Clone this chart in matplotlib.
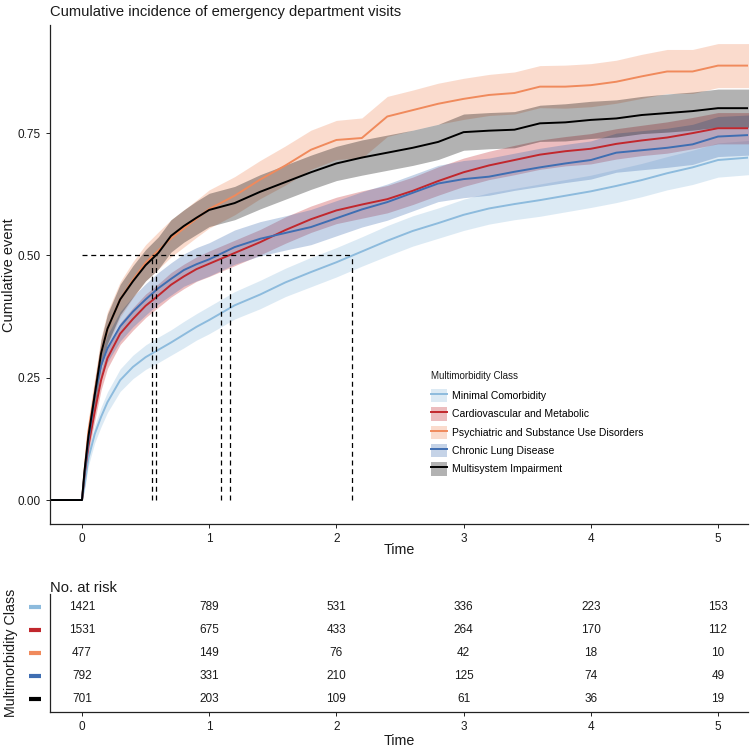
import matplotlib
matplotlib.use("Agg")
import matplotlib.pyplot as plt
from matplotlib.patches import Patch
from matplotlib.lines import Line2D
from matplotlib.transforms import blended_transform_factory

plt.rcParams["font.family"] = ["Liberation Sans", "DejaVu Sans"]

# ---- data ----
classes = ["Minimal Comorbidity", "Cardiovascular and Metabolic",
           "Psychiatric and Substance Use Disorders", "Chronic Lung Disease",
           "Multisystem Impairment"]
colors = ["#8DBBDD", "#C1272D", "#F08A5C", "#3F6EB2", "#000000"]

times = [-0.25, 0, 0.02, 0.05, 0.1, 0.15, 0.2, 0.3, 0.4, 0.5, 0.6, 0.7, 0.8, 0.9, 1.0,
         1.2, 1.4, 1.6, 1.8, 2.0, 2.2, 2.4, 2.6, 2.8, 3.0, 3.2, 3.4, 3.6, 3.8, 4.0,
         4.2, 4.4, 4.6, 4.8, 5.0, 5.24]

minimal = [0, 0, 0.03, 0.085, 0.135, 0.17, 0.2, 0.245, 0.272, 0.292, 0.307, 0.322, 0.338,
           0.354, 0.368, 0.398, 0.42, 0.445, 0.466, 0.486, 0.508, 0.53, 0.55, 0.566, 0.583,
           0.596, 0.605, 0.613, 0.622, 0.631, 0.642, 0.654, 0.668, 0.68, 0.695, 0.70]
cardio = [0, 0, 0.05, 0.11, 0.18, 0.245, 0.29, 0.34, 0.37, 0.397, 0.418, 0.44, 0.457,
          0.472, 0.483, 0.505, 0.527, 0.552, 0.574, 0.592, 0.604, 0.615, 0.632, 0.652, 0.67,
          0.684, 0.695, 0.706, 0.713, 0.718, 0.728, 0.735, 0.741, 0.75, 0.76, 0.76]
psych = [0, 0, 0.06, 0.14, 0.22, 0.30, 0.35, 0.41, 0.45, 0.485, 0.51, 0.535, 0.555,
         0.575, 0.595, 0.622, 0.655, 0.684, 0.716, 0.736, 0.74, 0.784, 0.797, 0.81, 0.82,
         0.828, 0.832, 0.845, 0.845, 0.848, 0.855, 0.866, 0.876, 0.876, 0.888, 0.888]
lung = [0, 0, 0.055, 0.12, 0.215, 0.275, 0.31, 0.355, 0.385, 0.41, 0.433, 0.452, 0.47,
        0.482, 0.492, 0.517, 0.534, 0.546, 0.558, 0.576, 0.594, 0.609, 0.628, 0.647, 0.656,
        0.661, 0.671, 0.68, 0.688, 0.695, 0.71, 0.715, 0.72, 0.727, 0.743, 0.746]
multi = [0, 0, 0.06, 0.13, 0.215, 0.30, 0.35, 0.41, 0.447, 0.48, 0.505, 0.54, 0.56,
         0.577, 0.593, 0.607, 0.63, 0.65, 0.67, 0.688, 0.70, 0.71, 0.72, 0.732, 0.752,
         0.755, 0.757, 0.77, 0.772, 0.777, 0.78, 0.787, 0.791, 0.795, 0.801, 0.801]

# half widths of the confidence bands
minimal_ci = [0, 0, 0.01, 0.015, 0.018, 0.02, 0.021, 0.023, 0.024, 0.025, 0.026, 0.026,
              0.027, 0.027, 0.028, 0.028, 0.029, 0.029, 0.03, 0.03, 0.03, 0.031, 0.031,
              0.031, 0.032, 0.032, 0.032, 0.033, 0.033, 0.033, 0.034, 0.034, 0.034, 0.035,
              0.035, 0.035]
cardio_ci = [0, 0, 0.01, 0.015, 0.018, 0.02, 0.021, 0.022, 0.023, 0.024, 0.024, 0.025,
             0.025, 0.025, 0.026, 0.026, 0.026, 0.027, 0.027, 0.027, 0.028, 0.028, 0.028,
             0.029, 0.029, 0.029, 0.03, 0.03, 0.03, 0.031, 0.031, 0.031, 0.032, 0.032,
             0.032, 0.032]
psych_ci = [0, 0, 0.015, 0.025, 0.03, 0.033, 0.035, 0.036, 0.037, 0.037, 0.038, 0.038,
            0.038, 0.038, 0.039, 0.039, 0.039, 0.04, 0.04, 0.04, 0.041, 0.041, 0.041,
            0.042, 0.042, 0.042, 0.043, 0.043, 0.044, 0.044, 0.044, 0.045, 0.045, 0.045,
            0.045, 0.045]
lung_ci = [0, 0, 0.012, 0.02, 0.024, 0.026, 0.028, 0.03, 0.031, 0.032, 0.032, 0.033,
           0.033, 0.034, 0.034, 0.035, 0.035, 0.035, 0.036, 0.036, 0.036, 0.037, 0.037,
           0.037, 0.038, 0.038, 0.038, 0.039, 0.039, 0.039, 0.04, 0.04, 0.04, 0.041,
           0.041, 0.041]
multi_ci = [0, 0, 0.012, 0.02, 0.025, 0.028, 0.03, 0.031, 0.032, 0.032, 0.033, 0.033,
            0.033, 0.034, 0.034, 0.034, 0.035, 0.035, 0.035, 0.035, 0.036, 0.036, 0.036,
            0.036, 0.037, 0.037, 0.037, 0.037, 0.038, 0.038, 0.038, 0.038, 0.039, 0.039,
            0.039, 0.039]

# median times (where each curve reaches 0.5)
medians = [2.122, 1.166, 0.553, 1.093, 0.580]

# number at risk table
risk_times = [0, 1, 2, 3, 4, 5]
risk_minimal = [1421, 789, 531, 336, 223, 153]
risk_cardio = [1531, 675, 433, 264, 170, 112]
risk_psych = [477, 149, 76, 42, 18, 10]
risk_lung = [792, 331, 210, 125, 74, 49]
risk_multi = [701, 203, 109, 61, 36, 19]

curves = [minimal, cardio, psych, lung, multi]
cis = [minimal_ci, cardio_ci, psych_ci, lung_ci, multi_ci]
risks = [risk_minimal, risk_cardio, risk_psych, risk_lung, risk_multi]

W, H = 750, 747
fig = plt.figure(figsize=(W / 100, H / 100), dpi=100)
xlim = (-0.2516, 5.236)
txt = "#1a1a1a"

# ---- main plot ----
ax = fig.add_axes([50 / W, 1 - 524 / H, 698 / W, 499 / H])
for y, ci, c in zip(curves, cis, colors):
    lo = [v - h for v, h in zip(y, ci)]
    hi = [v + h for v, h in zip(y, ci)]
    ax.fill_between(times, lo, hi, color=c, alpha=0.3, linewidth=0)
for y, c in zip(curves, colors):
    ax.plot(times, y, color=c, linewidth=1.4)

ax.plot([0, max(medians)], [0.5, 0.5], color="black", ls=(0, (4, 3)), lw=0.9)
for m in medians:
    ax.plot([m, m], [0, 0.5], color="black", ls=(0, (4, 3)), lw=0.9)

ax.set_xlim(*xlim)
ax.set_ylim(-0.049, 0.971)
ax.set_yticks([0, 0.25, 0.5, 0.75])
ax.set_yticklabels(["0.00", "0.25", "0.50", "0.75"])
ax.set_xticks(risk_times)
for s in ["top", "right"]:
    ax.spines[s].set_visible(False)
for s in ["left", "bottom"]:
    ax.spines[s].set_linewidth(0.9)
    ax.spines[s].set_color("#222222")
ax.tick_params(labelsize=8.5, length=3, width=0.7, colors="#222222", labelcolor=txt)

fig.text(50 / W, 1 - 12 / H, "Cumulative incidence of emergency department visits",
         ha="left", va="center", fontsize=10.6, color=txt)
fig.text(399 / W, 1 - 550 / H, "Time", ha="center", va="center", fontsize=10.3, color=txt)
fig.text(9 / W, 1 - 275 / H, "Cumulative event", ha="center", va="center",
         rotation=90, fontsize=10.5, color=txt)

# legend: title as plain text, keys below it
fig.text(431 / W, 1 - 376 / H, "Multimorbidity Class", ha="left", va="center",
         fontsize=7, color=txt)
handles = [(Patch(facecolor=c, alpha=0.3, edgecolor="none"),
            Line2D([], [], color=c, lw=1.4)) for c in colors]
leg = ax.legend(handles, classes, loc="upper left",
                bbox_to_anchor=((431 - 50) / 698, (524 - 389) / 499), frameon=False,
                fontsize=7.5, handlelength=1.5, handleheight=1.6, borderaxespad=0,
                handletextpad=0.55, labelspacing=0.47, borderpad=0)

# ---- risk table ----
ax2 = fig.add_axes([50 / W, 1 - 712 / H, 698 / W, 118 / H])
ax2.set_xlim(*xlim)
ax2.set_ylim(0.435, 5.565)
rows = [5, 4, 3, 2, 1]
for r, vals in zip(rows, risks):
    for t, n in zip(risk_times, vals):
        ax2.text(t, r, str(n), ha="center", va="center", fontsize=8.5, color=txt)
tr = blended_transform_factory(ax2.transAxes, ax2.transData)
for r, c in zip(rows, colors):
    ax2.plot([-0.030, -0.013], [r, r], transform=tr, color=c, lw=3,
             solid_capstyle="butt", clip_on=False)
ax2.set_yticks([])
ax2.set_xticks(risk_times)
for s in ["top", "right"]:
    ax2.spines[s].set_visible(False)
for s in ["left", "bottom"]:
    ax2.spines[s].set_linewidth(0.9)
    ax2.spines[s].set_color("#222222")
ax2.tick_params(labelsize=8.5, length=3, width=0.7, colors="#222222", labelcolor=txt)

fig.text(50 / W, 1 - 588 / H, "No. at risk", ha="left", va="center", fontsize=10.6, color=txt)
fig.text(399 / W, 1 - 741 / H, "Time", ha="center", va="center", fontsize=10.3, color=txt)
fig.text(11 / W, 1 - 653 / H, "Multimorbidity Class", ha="center", va="center",
         rotation=90, fontsize=10.3, color=txt)

fig.savefig("out.png", dpi=100)
